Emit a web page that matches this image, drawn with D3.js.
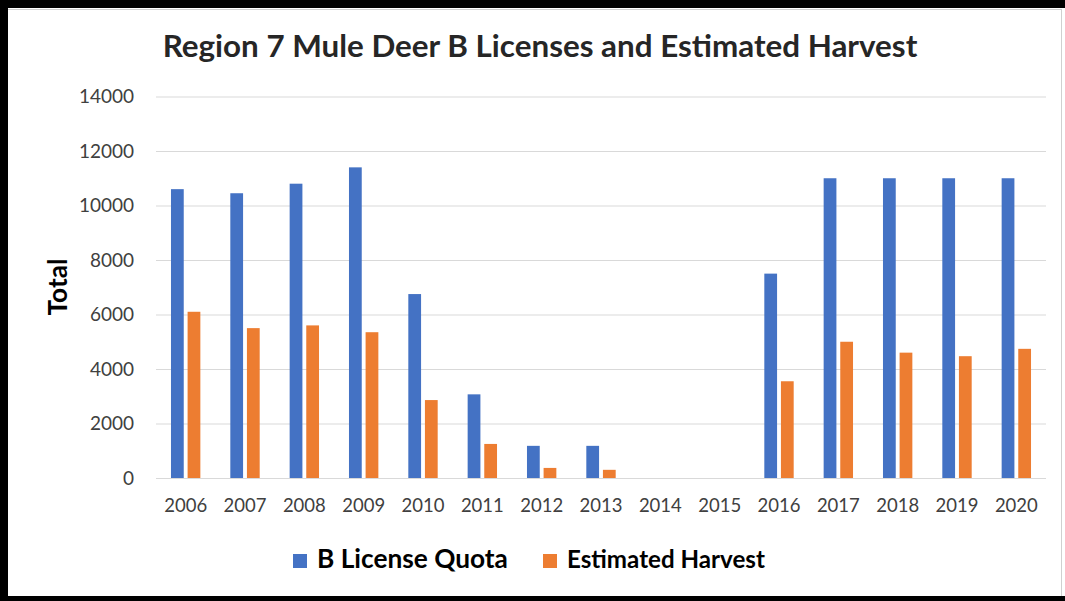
<!DOCTYPE html>
<html>
<head>
<meta charset="utf-8">
<script src="https://cdn.jsdelivr.net/npm/d3@7"></script>
<style>
  html, body { margin: 0; padding: 0; background: #fff; }
  svg { display: block; }
  text { font-family: Lato, "Open Sans", sans-serif; }
</style>
</head>
<body>
<svg id="chart" width="1065" height="601"></svg>
<script>
// Region 7 mule deer B licenses vs estimated harvest, 2006–2020
const years = ["2006","2007","2008","2009","2010","2011","2012","2013","2014","2015","2016","2017","2018","2019","2020"];
const quota = [10600, 10450, 10800, 11400, 6750, 3070, 1180, 1180, 0, 0, 7500, 11000, 11000, 11000, 11000];
const harvest = [6100, 5500, 5600, 5350, 2860, 1250, 370, 300, 0, 0, 3550, 5000, 4600, 4470, 4740];
const yTicks = [0, 2000, 4000, 6000, 8000, 10000, 12000, 14000];
const seriesNames = ["B License Quota", "Estimated Harvest"];
const seriesColors = ["#4472C4", "#ED7D31"];
const titleText = "Region 7 Mule Deer B Licenses and Estimated Harvest";
const yTitle = "Total";

const svg = d3.select("#chart");
const W = 1065, H = 601;

// chart frame
svg.append("rect").attr("x", 0).attr("y", 0).attr("width", W).attr("height", H).attr("fill", "#fff");
svg.append("line").attr("x1", 8).attr("x2", 1061).attr("y1", 9.5).attr("y2", 9.5).attr("stroke", "#d0d0d0");
svg.append("line").attr("x1", 1061.5).attr("x2", 1061.5).attr("y1", 9).attr("y2", 596).attr("stroke", "#d0d0d0");
svg.append("rect").attr("x", 0).attr("y", 0).attr("width", 8).attr("height", H).attr("fill", "#000");
svg.append("rect").attr("x", 0).attr("y", 0).attr("width", W).attr("height", 8).attr("fill", "#000");
svg.append("rect").attr("x", 0).attr("y", 596).attr("width", W).attr("height", 5).attr("fill", "#000");

// fit a text element's rendered width to a target width
function fitWidth(sel, target) {
  const fs = parseFloat(sel.attr("font-size"));
  const w = sel.node().getComputedTextLength();
  if (w > 0) sel.attr("font-size", (fs * target / w).toFixed(2));
  return sel;
}

const plot = { left: 156, right: 1046, top: 96.5, bottom: 478 };

const x = d3.scaleBand().domain(years).range([plot.left, plot.right]).paddingInner(0).paddingOuter(0);
const y = d3.scaleLinear().domain([0, 14000]).range([plot.bottom, plot.top]);

// gridlines
svg.append("g")
  .attr("transform", `translate(${plot.left},0)`)
  .call(d3.axisLeft(y).tickValues(yTicks).tickSize(-(plot.right - plot.left)).tickFormat(""))
  .call(g => g.select(".domain").remove())
  .call(g => g.selectAll(".tick line").attr("stroke", "#d9d9d9").attr("stroke-width", 1.2));

// y tick labels
svg.append("g")
  .attr("transform", `translate(${plot.left},0)`)
  .call(d3.axisLeft(y).tickValues(yTicks).tickSize(0).tickPadding(22).tickFormat(d3.format("d")))
  .call(g => g.select(".domain").remove())
  .call(g => g.selectAll(".tick text")
    .attr("font-family", "Lato, sans-serif")
    .attr("font-size", 19)
    .attr("fill", "#404040"));

// bars
const bw = x.bandwidth() * 0.215;
const gap = x.bandwidth() * 0.065;
const sub = d3.scaleOrdinal().domain([0, 1]).range([
  x.bandwidth() / 2 - gap / 2 - bw,
  x.bandwidth() / 2 + gap / 2
]);
[quota, harvest].forEach((vals, si) => {
  svg.append("g").selectAll("rect")
    .data(years.map((yr, i) => ({ yr, v: vals[i] })))
    .join("rect")
    .attr("x", d => x(d.yr) + sub(si))
    .attr("width", bw)
    .attr("y", d => y(d.v))
    .attr("height", d => y(0) - y(d.v))
    .attr("fill", seriesColors[si]);
});

// x axis labels
svg.append("g")
  .attr("transform", `translate(0,${plot.bottom})`)
  .call(d3.axisBottom(x).tickSize(0).tickPadding(21))
  .call(g => g.select(".domain").remove())
  .call(g => g.selectAll(".tick text")
    .attr("font-family", "Lato, sans-serif")
    .attr("font-size", 18.5)
    .attr("fill", "#404040"));

// title
const title = svg.append("text")
  .attr("x", 540).attr("y", 57)
  .attr("text-anchor", "middle")
  .attr("font-size", 30).attr("font-weight", "bold")
  .attr("fill", "#262626")
  .text(titleText);
fitWidth(title, 755);

// y axis title
const yt = svg.append("text")
  .attr("transform", "translate(67,287) rotate(-90)")
  .attr("text-anchor", "middle")
  .attr("font-size", 22).attr("font-weight", "bold")
  .attr("fill", "#000")
  .text(yTitle);
fitWidth(yt, 57);

// legend
const legendX = [293, 543];
const legendW = [191, 198];
seriesNames.forEach((name, i) => {
  svg.append("rect").attr("x", legendX[i]).attr("y", 554).attr("width", 14).attr("height", 14).attr("fill", seriesColors[i]);
  const t = svg.append("text")
    .attr("x", legendX[i] + 24).attr("y", 568)
    .attr("font-size", 21).attr("font-weight", "bold")
    .attr("fill", "#000")
    .text(name);
  fitWidth(t, legendW[i]);
});
</script>
</body>
</html>
